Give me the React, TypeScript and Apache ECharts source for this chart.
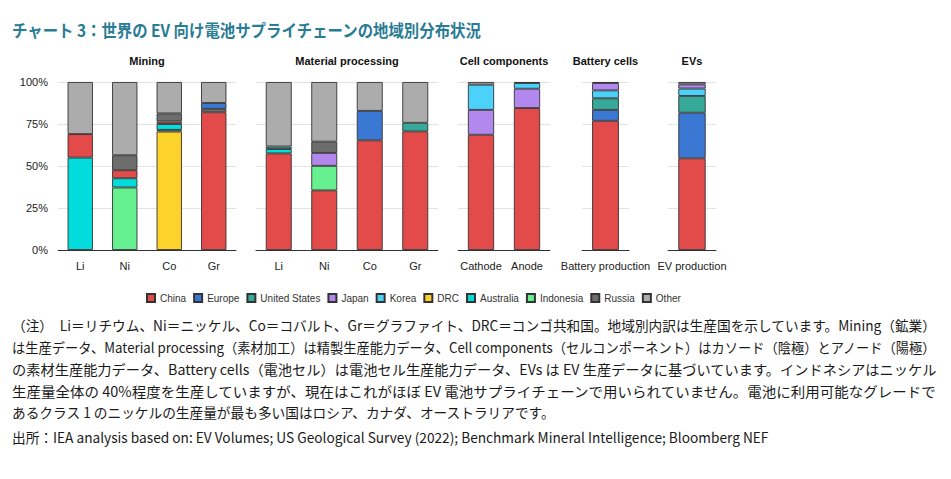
import React, { useEffect, useRef } from 'react';
import * as echarts from 'echarts';

const regions = ['China', 'Europe', 'United States', 'Japan', 'Korea', 'DRC', 'Australia', 'Indonesia', 'Russia', 'Other'];
const regionColors = ['#e34a4a', '#3b78d3', '#36a99b', '#b288ee', '#4cd1fb', '#fdd22a', '#03dcdc', '#67f08f', '#6c6d6c', '#acacac'];

const yTicks = [0, 25, 50, 75, 100];

// Mining
const miningCategories = ['Li', 'Ni', 'Co', 'Gr'];
const miningChina = [14, 4.8, 1.5, 82];
const miningEurope = [0, 0, 0, 3.5];
const miningDRC = [0, 0, 70.5, 0];
const miningAustralia = [55, 5.5, 3.5, 0];
const miningIndonesia = [0, 37.2, 1, 0];
const miningRussia = [0, 8.9, 4.8, 2];
const miningOther = [31, 43.6, 18.7, 12.5];
const miningStackOrder = ['DRC', 'Indonesia', 'Australia', 'China', 'Russia', 'Europe', 'Other'];

// Material processing
const materialCategories = ['Li', 'Ni', 'Co', 'Gr'];
const materialChina = [57.5, 35.5, 65.3, 70.6];
const materialEurope = [0, 0, 17.5, 0];
const materialUS = [1.5, 0, 0, 5.1];
const materialJapan = [0, 7.7, 0, 0];
const materialAustralia = [2.6, 0, 0, 0];
const materialIndonesia = [0, 14.6, 0, 0];
const materialRussia = [0, 6.7, 0, 0];
const materialOther = [38.4, 35.5, 17.2, 24.3];
const materialStackOrder = ['China', 'Australia', 'United States', 'Indonesia', 'Japan', 'Europe', 'Russia', 'Other'];

// Cell components
const cellCategories = ['Cathode', 'Anode'];
const cellChina = [68.6, 84.5];
const cellJapan = [14.8, 11.5];
const cellKorea = [15, 3.4];
const cellOther = [1.6, 0.6];
const cellStackOrder = ['China', 'Japan', 'Korea', 'Other'];

// Battery cells
const batteryCategories = ['Battery production'];
const batteryChina = [76.9];
const batteryEurope = [6.5];
const batteryUS = [6.9];
const batteryKorea = [4.7];
const batteryJapan = [4.4];
const batteryOther = [0.6];
const batteryStackOrder = ['China', 'Europe', 'United States', 'Korea', 'Japan', 'Other'];

// EVs
const evCategories = ['EV production'];
const evChina = [54.6];
const evEurope = [27.1];
const evUS = [10];
const evKorea = [4.4];
const evJapan = [2.5];
const evOther = [1.4];
const evStackOrder = ['China', 'Europe', 'United States', 'Korea', 'Japan', 'Other'];

const titleText = 'チャート 3：世界の EV 向け電池サプライチェーンの地域別分布状況';
const noteLines = [
  '（注）　Li＝リチウム、Ni＝ニッケル、Co＝コバルト、Gr＝グラファイト、DRC＝コンゴ共和国。地域別内訳は生産国を示しています。Mining（鉱業）',
  'は生産データ、Material processing（素材加工）は精製生産能力データ、Cell components（セルコンポーネント）はカソード（陰極）とアノード（陽極）',
  'の素材生産能力データ、Battery cells（電池セル）は電池セル生産能力データ、EVs は EV 生産データに基づいています。インドネシアはニッケル',
  '生産量全体の 40%程度を生産していますが、現在はこれがほぼ EV 電池サプライチェーンで用いられていません。電池に利用可能なグレードで',
  'あるクラス 1 のニッケルの生産量が最も多い国はロシア、カナダ、オーストラリアです。',
];
const sourceText = '出所：IEA analysis based on: EV Volumes; US Geological Survey (2022); Benchmark Mineral Intelligence; Bloomberg NEF';

const sections = [
  {
    title: 'Mining', categories: miningCategories, order: miningStackOrder,
    values: { China: miningChina, Europe: miningEurope, DRC: miningDRC, Australia: miningAustralia, Indonesia: miningIndonesia, Russia: miningRussia, Other: miningOther } as Record<string, number[]>,
  },
  {
    title: 'Material processing', categories: materialCategories, order: materialStackOrder,
    values: { China: materialChina, Europe: materialEurope, 'United States': materialUS, Japan: materialJapan, Australia: materialAustralia, Indonesia: materialIndonesia, Russia: materialRussia, Other: materialOther } as Record<string, number[]>,
  },
  {
    title: 'Cell components', categories: cellCategories, order: cellStackOrder,
    values: { China: cellChina, Japan: cellJapan, Korea: cellKorea, Other: cellOther } as Record<string, number[]>,
  },
  {
    title: 'Battery cells', categories: batteryCategories, order: batteryStackOrder,
    values: { China: batteryChina, Europe: batteryEurope, 'United States': batteryUS, Korea: batteryKorea, Japan: batteryJapan, Other: batteryOther } as Record<string, number[]>,
  },
  {
    title: 'EVs', categories: evCategories, order: evStackOrder,
    values: { China: evChina, Europe: evEurope, 'United States': evUS, Korea: evKorea, Japan: evJapan, Other: evOther } as Record<string, number[]>,
  },
];

const gridLayout = [
  { left: 58, width: 178 },
  { left: 256, width: 182 },
  { left: 458, width: 92 },
  { left: 582, width: 47 },
  { left: 668, width: 48 },
];
const gridTop = 82;
const gridHeight = 168;

function measure(text: string, font: string): number {
  const ctx = document.createElement('canvas').getContext('2d');
  if (!ctx) return text.length * 10;
  ctx.font = font;
  return ctx.measureText(text).width;
}

export default function App() {
  const ref = useRef<HTMLDivElement>(null);
  useEffect(() => {
    document.body.style.margin = '0';
    if (!ref.current) return;
    const chart = echarts.init(ref.current, null, { renderer: 'svg' });
    const latin = '"Liberation Sans", Arial, sans-serif';
    const jpFamily = '"Noto Sans CJK JP", sans-serif';

    const grids = gridLayout.map((g) => ({ left: g.left, width: g.width, top: gridTop, height: gridHeight }));
    const xAxes = sections.map((s, i) => ({
      type: 'category',
      gridIndex: i,
      data: s.categories,
      axisTick: { show: false },
      axisLine: { lineStyle: { color: '#333', width: 1 } },
      axisLabel: { fontSize: 11, color: '#222', fontFamily: latin, margin: 10, interval: 0 },
    }));
    const yAxes = sections.map((s, i) => ({
      type: 'value',
      gridIndex: i,
      min: yTicks[0],
      max: yTicks[yTicks.length - 1],
      interval: 25,
      axisLine: { show: false },
      axisTick: { show: false },
      splitLine: { lineStyle: { color: '#e3e3e3', width: 1 } },
      axisLabel: { show: i === 0, formatter: '{value}%', fontSize: 11, color: '#222', fontFamily: latin, margin: 10 },
    }));

    const series: any[] = [];
    sections.forEach((s, i) => {
      s.order.forEach((name) => {
        const vals = s.values[name];
        if (!vals) return;
        series.push({
          type: 'bar',
          name,
          xAxisIndex: i,
          yAxisIndex: i,
          stack: 'stack' + i,
          barWidth: '57%',
          data: vals.map((v) => (v ? v : null)),
          itemStyle: { color: regionColors[regions.indexOf(name)], borderColor: '#333', borderWidth: 0.9 },
        });
      });
    });

    const titleFont = 'bold 17px ' + jpFamily;
    const titleScale = 470 / measure(titleText, titleFont);
    const noteFont = '14px ' + jpFamily;
    const noteScales = noteLines.map((t) => 926 / measure(t, noteFont));
    const baseScale = noteScales[0];
    const noteYs = [325, 347, 369, 391, 412];

    const graphics: any[] = [
      {
        type: 'text', x: 12, y: 30, scaleX: titleScale,
        style: { text: titleText, font: titleFont, fill: '#2a7c94', textVerticalAlign: 'middle' },
      },
    ];
    sections.forEach((s, i) => {
      const g = gridLayout[i];
      graphics.push({
        type: 'text', x: g.left + g.width / 2, y: 61,
        style: { text: s.title, font: 'bold 11px ' + latin, fill: '#111', textAlign: 'center', textVerticalAlign: 'middle' },
      });
    });
    noteLines.forEach((t, i) => {
      graphics.push({
        type: 'text', x: 12, y: noteYs[i], scaleX: i < 4 ? noteScales[i] : baseScale,
        style: { text: t, font: noteFont, fill: '#1a1a1a', textVerticalAlign: 'middle' },
      });
    });
    graphics.push({
      type: 'text', x: 12, y: 437, scaleX: baseScale,
      style: { text: sourceText, font: noteFont, fill: '#1a1a1a', textVerticalAlign: 'middle' },
    });

    chart.setOption({
      animation: false,
      grid: grids,
      xAxis: xAxes,
      yAxis: yAxes,
      series,
      legend: {
        data: regions,
        left: 141,
        top: 288,
        icon: 'rect',
        itemWidth: 8,
        itemHeight: 8,
        itemGap: 7,
        textStyle: { fontSize: 10, color: '#333', fontFamily: latin },
      },
      graphic: graphics,
    });
    return () => chart.dispose();
  }, []);
  return <div ref={ref} style={{ width: 951, height: 479 }} />;
}
